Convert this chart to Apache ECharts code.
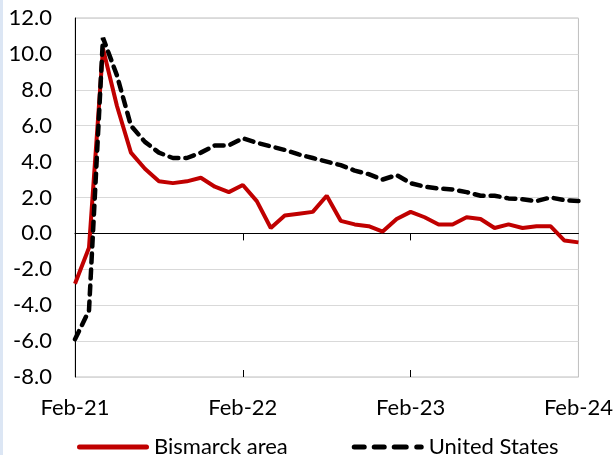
<!DOCTYPE html>
<html><head><meta charset="utf-8">
<script src="https://cdn.jsdelivr.net/npm/echarts@6/dist/echarts.min.js"></script>
<style>html,body{margin:0;padding:0;background:#fff}#c{width:616px;height:455px}
#edge{position:absolute;left:0;top:0;width:3px;height:455px;background:#dce6f4}</style>
</head><body><div id="c"></div><div id="edge"></div>
<script>
const months = ["Feb-21","Mar-21","Apr-21","May-21","Jun-21","Jul-21","Aug-21","Sep-21","Oct-21","Nov-21","Dec-21","Jan-22",
"Feb-22","Mar-22","Apr-22","May-22","Jun-22","Jul-22","Aug-22","Sep-22","Oct-22","Nov-22","Dec-22","Jan-23",
"Feb-23","Mar-23","Apr-23","May-23","Jun-23","Jul-23","Aug-23","Sep-23","Oct-23","Nov-23","Dec-23","Jan-24","Feb-24"];
const bismarck = [-2.8,-0.8,10.3,7.1,4.5,3.6,2.9,2.8,2.9,3.1,2.6,2.3,
2.7,1.8,0.3,1.0,1.1,1.2,2.1,0.7,0.5,0.4,0.1,0.8,
1.2,0.9,0.5,0.5,0.9,0.8,0.3,0.5,0.3,0.4,0.4,-0.4,-0.5];
const unitedStates = [-5.9,-4.3,10.9,8.8,6.0,5.1,4.5,4.2,4.2,4.5,4.9,4.9,
5.3,5.05,4.85,4.65,4.4,4.2,4.0,3.8,3.5,3.3,3.0,3.25,
2.8,2.6,2.5,2.45,2.3,2.1,2.1,1.95,1.9,1.8,2.0,1.85,1.8];
const seriesNames = ["Bismarck area","United States"];
const font = "Lato, 'Open Sans', sans-serif";
const chart = echarts.init(document.getElementById('c'));
const tickInt = (i) => i % 12 === 0;
const solidIcon = 'path://M2.5,0H69.5A2.5,2.5,0,0,1,69.5,5H2.5A2.5,2.5,0,0,1,2.5,0Z';
const dashIcon = 'path://M2.5,0H12.5A2.5,2.5,0,0,1,12.5,5H2.5A2.5,2.5,0,0,1,2.5,0Z'+
  'M22.5,0H32.5A2.5,2.5,0,0,1,32.5,5H22.5A2.5,2.5,0,0,1,22.5,0Z'+
  'M42.5,0H54.5A2.5,2.5,0,0,1,54.5,5H42.5A2.5,2.5,0,0,1,42.5,0Z'+
  'M65,0H69.5A2.5,2.5,0,0,1,69.5,5H65A2.5,2.5,0,0,1,65,0Z';
chart.setOption({
  animation:false,
  grid:{left:75,right:36,top:18,bottom:78,show:true,borderColor:'#bfbfbf',borderWidth:1},
  legend:{top:431,left:72,itemGap:64,itemWidth:72,itemHeight:5,
    textStyle:{fontFamily:font,fontSize:22,color:'#000'},
    data:[{name:seriesNames[0],icon:solidIcon},{name:seriesNames[1],icon:dashIcon}]},
  xAxis:[
    {type:'category',data:months,boundaryGap:false,position:'bottom',
     axisLine:{onZero:true,lineStyle:{color:'#000',width:1}},
     axisTick:{show:true,interval:(i)=>tickInt(i)&&i>0&&i<36,length:7,inside:false,lineStyle:{color:'#000'}},
     axisLabel:{show:false},splitLine:{show:false}},
    {type:'category',data:months,boundaryGap:false,position:'bottom',
     axisLine:{show:false,onZero:true},
     axisTick:{show:true,interval:(i)=>tickInt(i)&&i>0&&i<36,length:7,inside:true,lineStyle:{color:'#000'}},
     axisLabel:{show:false},splitLine:{show:false}},
    {type:'category',data:months,boundaryGap:false,position:'bottom',
     axisLine:{show:false,onZero:false},axisTick:{show:false},
     axisLabel:{interval:(i)=>tickInt(i),margin:20,fontFamily:font,fontSize:22,color:'#000',
       formatter:(v)=>v},
     splitLine:{show:false}}
  ],
  yAxis:{type:'value',min:-8,max:12,interval:2,
    axisLine:{show:true,lineStyle:{color:'#000'}},
    axisTick:{show:false},
    axisLabel:{fontFamily:font,fontSize:22,color:'#000',margin:23,formatter:(v)=>v.toFixed(1)},
    splitLine:{lineStyle:{color:'#d9d9d9',width:1}}},
  series:[
    {name:seriesNames[0],type:'line',data:bismarck,symbol:'none',
     lineStyle:{color:'#c00000',width:4},itemStyle:{color:'#c00000'}},
    {name:seriesNames[1],type:'line',data:unitedStates,symbol:'none',z:3,
     lineStyle:{color:'#000',width:4.5,type:[9,7],cap:'round'},itemStyle:{color:'#000'}}
  ]
});
</script></body></html>
